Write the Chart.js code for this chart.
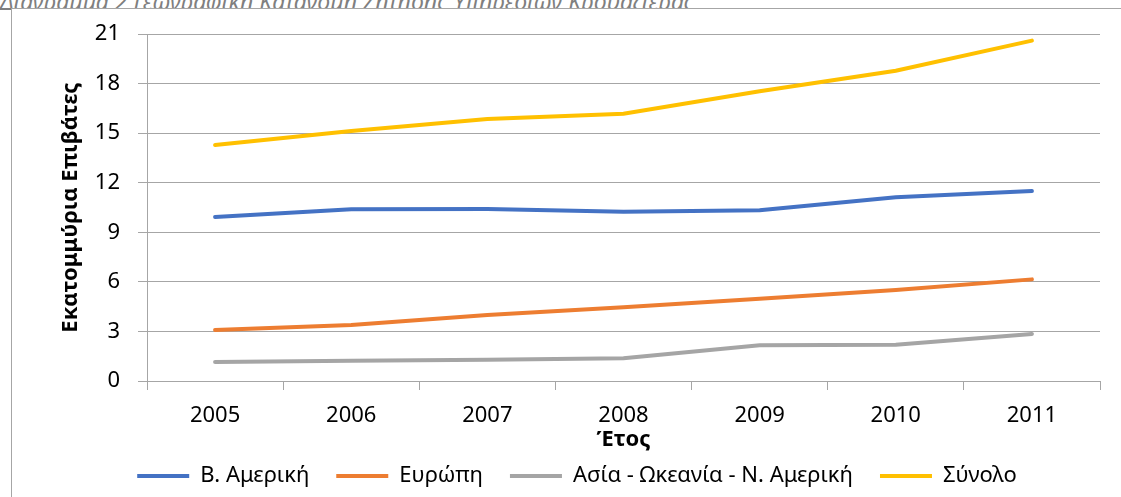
<!DOCTYPE html>
<html>

<head>
  <title>Γεωγραφική Κατανομή Ζήτησης</title>
  <script src="https://cdn.jsdelivr.net/npm/chart.js"></script>
  <style>
    body { margin: 0; background: #fff; overflow: hidden; width: 1121px; height: 497px; position: relative; }
    #caption {
      position: absolute; left: 0; top: -15px; line-height: 20px;
      font: italic 23px 'Noto Sans', sans-serif; color: #7f7f7f; white-space: nowrap;
    }
    #frame {
      position: absolute; left: 11px; top: 8px; width: 1115px; height: 495px;
      border: 1px solid #a6a6a6; background: #fff;
    }
    #box { position: relative; width: 1109px; height: 488px; }
  </style>
</head>

<body>
  <div id="caption">Διάγραμμα 2 Γεωγραφική Κατανομή Ζήτησης Υπηρεσιών Κρουαζιέρας</div>
  <div id="frame">
    <div id="box"><canvas id="lineChart"></canvas></div>
  </div>
  <script>
    // values (millions of passengers)
    const years = ['2005', '2006', '2007', '2008', '2009', '2010', '2011'];
    const northAmerica = [9.93, 10.39, 10.41, 10.25, 10.33, 11.12, 11.5];
    const europe = [3.09, 3.39, 4.0, 4.46, 4.98, 5.51, 6.15];
    const asiaOceania = [1.15, 1.23, 1.29, 1.37, 2.16, 2.2, 2.85];
    const total = [14.28, 15.13, 15.86, 16.18, 17.53, 18.78, 20.6];
    const yTicks = [0, 3, 6, 9, 12, 15, 18, 21];

    const font = "'Noto Sans', sans-serif";
    const gridColor = '#a6a6a6';

    function series(label, data, color) {
      return {
        label: label,
        data: data,
        borderColor: color,
        backgroundColor: color,
        borderWidth: 4,
        borderCapStyle: 'round',
        tension: 0,
        pointRadius: 0,
        pointHoverRadius: 0
      };
    }

    const ctx = document.getElementById('lineChart').getContext('2d');
    const chart = new Chart(ctx, {
      type: 'line',
      data: {
        labels: years,
        datasets: [
          series('Β. Αμερική', northAmerica, '#4472c4'),
          series('Ευρώπη', europe, '#ed7d31'),
          series('Ασία - Ωκεανία - Ν. Αμερική', asiaOceania, '#a5a5a5'),
          series('Σύνολο', total, '#ffc000')
        ]
      },
      options: {
        responsive: true,
        maintainAspectRatio: false,
        animation: false,
        layout: { padding: { left: 42, right: 21, top: 25, bottom: 0 } },
        plugins: {
          tooltip: { enabled: false },
          legend: {
            position: 'bottom',
            labels: {
              color: '#000',
              font: { family: font, size: 22 },
              boxWidth: 52,
              boxHeight: 4,
              padding: 27,
              generateLabels: function (chart) {
                const items = Chart.defaults.plugins.legend.labels.generateLabels(chart);
                items.forEach(function (it) { it.lineWidth = 0; });
                return items;
              }
            }
          }
        },
        scales: {
          x: {
            offset: true,
            afterFit: function (scale) { scale.height = 57; },
            grid: {
              offset: true,
              drawOnChartArea: false,
              drawTicks: true,
              tickLength: 9,
              color: gridColor
            },
            border: { display: true, color: gridColor, width: 1 },
            ticks: { color: '#000', font: { family: font, size: 22 }, padding: 13, maxRotation: 0 },
            title: {
              display: true,
              text: 'Έτος',
              color: '#000',
              font: { family: font, size: 22, weight: 'bold' },
              padding: { top: 0, bottom: -15 }
            }
          },
          y: {
            min: 0,
            max: 21,
            afterFit: function (scale) {
              scale.width = 93;
              scale.paddingTop = 0; // tick padding would otherwise push the plot down
            },
            afterBuildTicks: function (scale) {
              scale.ticks = yTicks.map(function (v) { return { value: v }; });
            },
            grid: { color: gridColor, tickLength: 9, drawTicks: true },
            border: { display: true, color: gridColor, width: 1 },
            ticks: { color: '#000', font: { family: font, size: 22 }, padding: 18 },
            title: {
              display: true,
              text: 'Εκατομμύρια Επιβάτες',
              color: '#000',
              font: { family: font, size: 22, weight: 'bold' },
              padding: { top: 4, bottom: 4 }
            }
          }
        }
      }
    });
  </script>
</body>

</html>
